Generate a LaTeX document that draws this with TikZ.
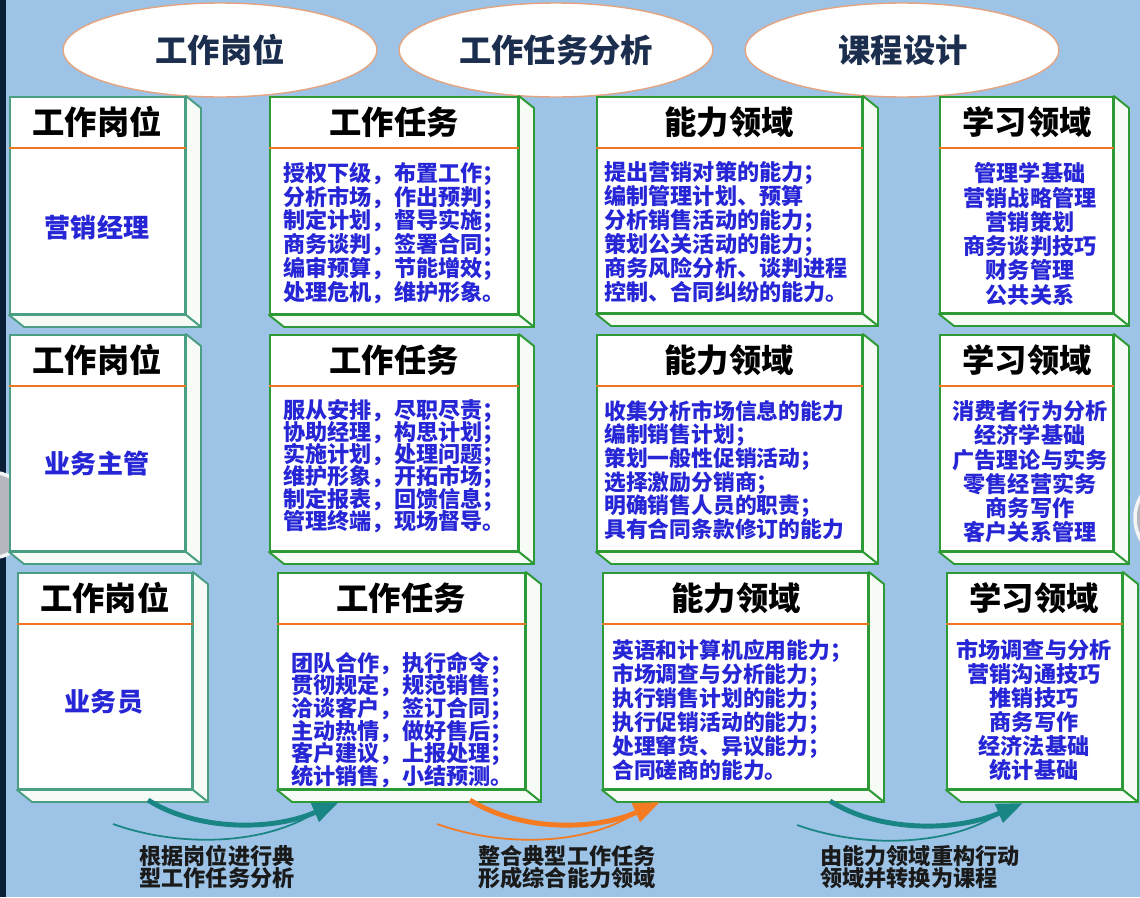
\documentclass[tikz,border=0pt]{standalone}
\usepackage{fontspec}
\setmainfont{Noto Sans CJK SC}
\usetikzlibrary{arrows.meta,fit,calc,shapes.geometric}
\definecolor{bgblue}{HTML}{9DC3E6}
\definecolor{navystripe}{HTML}{0B1E38}
\definecolor{bodyblue}{HTML}{2626D6}
\definecolor{ellborder}{HTML}{E4A482}
\definecolor{elltext}{HTML}{1C2E4E}
\definecolor{boxgreen}{HTML}{2E9A36}
\definecolor{boxteal}{HTML}{4A9E84}
\definecolor{sepor}{HTML}{F07522}
\definecolor{sideface}{HTML}{F6FBF6}
\definecolor{arrteal}{HTML}{1A8585}
\definecolor{arror}{HTML}{F47B22}
\definecolor{labtext}{HTML}{1A1A1A}
\definecolor{knob}{HTML}{B4B7BE}
\newcommand{\zcomma}{\makebox[1em][l]{，}}
\newcommand{\zsemi}{\makebox[1em][l]{；}}
\newcommand{\zstop}{\makebox[1em][l]{。}}
\newcommand{\zdun}{\makebox[1em][l]{、}}
\tikzset{
  ellbox/.style={ellipse, draw=ellborder, line width=0.8pt, fill=white,
    minimum width=6.28cm, minimum height=1.88cm, inner sep=0pt},
  elltxt/.style={font=\bfseries\fontsize{18.4}{20}\selectfont, text=elltext, inner sep=0pt},
  hdr/.style={font=\bfseries\fontsize{18.4}{20}\selectfont, text=black, inner sep=0pt},
  post/.style={font=\bfseries\fontsize{14.8}{16}\selectfont, text=bodyblue, inner sep=0pt},
  bodyl/.style={text=bodyblue, align=left, anchor=west, inner sep=0pt},
  bodyc/.style={text=bodyblue, align=center, anchor=center, inner sep=0pt},
  lab/.style={font=\bfseries\fontsize{12.6}{12.6}\selectfont, text=labtext, inner sep=0pt},
  thickarr/.style={line width=2.8pt, -{Triangle[length=15pt,width=11pt]}},
  thinarr/.style={line width=1pt},
}
\newcommand{\cubebox}[6]{%
  \node[fit={(#2,#3)(#4,#5)}, inner sep=0pt, draw=#6, fill=white, line width=1.1pt] (#1) {};
  \draw[draw=#6, fill=sideface, line width=1.1pt, line join=round]
    (#1.north east) -- ++(15,12) -- ($(#1.south east)+(15,12)$) -- (#1.south east) -- cycle;
  \draw[draw=#6, fill=sideface, line width=1.1pt, line join=round]
    (#1.south west) -- (#1.south east) -- ++(15,12) -- ($(#1.south west)+(15,12)$) -- cycle;
  \draw[sepor, line width=1.6pt] ($(#1.north west)+(0,52)$) -- ($(#1.north east)+(0,52)$);
}
\begin{document}
\begin{tikzpicture}[x=0.02cm,y=-0.02cm]
\lineskiplimit=-20pt
\useasboundingbox (0,0) rectangle (1140,897);
\fill[bgblue] (0,0) rectangle (1140,897);
\fill[navystripe] (0,0) rectangle (6,897);
\fill[knob, draw=white!85!knob, line width=2pt] (-10,515) circle[radius=43];
\fill[knob, draw=white!85!knob, line width=2pt] (1178,518) circle[radius=43];

% top ellipses
\node[ellbox] (e1) at (220,50) {};
\node[elltxt] (e1t) at (220,50) {工作岗位};
\node[ellbox] (e2) at (556,50) {};
\node[elltxt] (e2t) at (556,50) {工作任务分析};
\node[ellbox] (e3) at (902,50) {};
\node[elltxt] (e3t) at (903,50) {课程设计};

% row A
\cubebox{a1}{10}{97}{185}{314}{boxteal}
\cubebox{a2}{270}{97}{518}{314}{boxgreen}
\cubebox{a3}{597}{97}{862}{313}{boxgreen}
\cubebox{a4}{940}{97}{1113}{313}{boxgreen}
% row B
\cubebox{b1}{10}{335}{185}{551}{boxteal}
\cubebox{b2}{270}{335}{518}{551}{boxgreen}
\cubebox{b3}{597}{335}{862}{551}{boxgreen}
\cubebox{b4}{940}{335}{1113}{551}{boxgreen}
% row C
\cubebox{c1}{18}{573}{192}{789}{boxteal}
\cubebox{c2}{278}{573}{525}{789}{boxgreen}
\cubebox{c3}{603}{573}{868}{789}{boxgreen}
\cubebox{c4}{947}{573}{1122}{789}{boxgreen}

% headers
\node[hdr] (a1h) at (97,122) {工作岗位};
\node[hdr] (a2h) at (394,122) {工作任务};
\node[hdr] (a3h) at (729,122) {能力领域};
\node[hdr] (a4h) at (1027,122) {学习领域};
\node[hdr] (b1h) at (97,360) {工作岗位};
\node[hdr] (b2h) at (394,360) {工作任务};
\node[hdr] (b3h) at (729,360) {能力领域};
\node[hdr] (b4h) at (1027,360) {学习领域};
\node[hdr] (c1h) at (105,598) {工作岗位};
\node[hdr] (c2h) at (401,598) {工作任务};
\node[hdr] (c3h) at (736,598) {能力领域};
\node[hdr] (c4h) at (1034,598) {学习领域};

% posts
\node[post] (a1p) at (97,228) {营销经理};
\node[post] (b1p) at (97,464) {业务主管};
\node[post] (c1p) at (104,702) {业务员};

% bodies row A
\node[bodyl, font=\bfseries\fontsize{12.6}{13.6}\selectfont] (a2b) at (283,233) {授权下级\zcomma 布置工作\zsemi\\分析市场\zcomma 作出预判\zsemi\\制定计划\zcomma 督导实施\zsemi\\商务谈判\zcomma 签署合同\zsemi\\编审预算\zcomma 节能增效\zsemi\\处理危机\zcomma 维护形象\zstop};
\node[bodyl, font=\bfseries\fontsize{12.6}{13.6}\selectfont] (a3b) at (604,232) {提出营销对策的能力\zsemi\\编制管理计划\zdun 预算\\分析销售活动的能力\zsemi\\策划公关活动的能力\zsemi\\商务风险分析\zdun 谈判进程\\控制\zdun 合同纠纷的能力\zstop};
\node[bodyc, font=\bfseries\fontsize{12.6}{13.8}\selectfont] (a4b) at (1030,234) {管理学基础\\营销战略管理\\营销策划\\商务谈判技巧\\财务管理\\公共关系};
% bodies row B
\node[bodyl, font=\bfseries\fontsize{12.6}{12.7}\selectfont] (b2b) at (283,466) {服从安排\zcomma 尽职尽责\zsemi\\协助经理\zcomma 构思计划\zsemi\\实施计划\zcomma 处理问题\zsemi\\维护形象\zcomma 开拓市场\zsemi\\制定报表\zcomma 回馈信息\zsemi\\管理终端\zcomma 现场督导\zstop};
\node[bodyl, font=\bfseries\fontsize{12.4}{13.5}\selectfont] (b3b) at (604,470) {收集分析市场信息的能力\\编制销售计划\zsemi\\策划一般性促销活动\zsemi\\选择激励分销商\zsemi\\明确销售人员的职责\zsemi\\具有合同条款修订的能力};
\node[bodyc, font=\bfseries\fontsize{12.6}{13.8}\selectfont] (b4b) at (1030,472) {消费者行为分析\\经济学基础\\广告理论与实务\\零售经营实务\\商务写作\\客户关系管理};
% bodies row C
\node[bodyl, font=\bfseries\fontsize{12.6}{12.9}\selectfont] (c2b) at (291,720) {团队合作\zcomma 执行命令\zsemi\\贯彻规定\zcomma 规范销售\zsemi\\洽谈客户\zcomma 签订合同\zsemi\\主动热情\zcomma 做好售后\zsemi\\客户建议\zcomma 上报处理\zsemi\\统计销售\zcomma 小结预测\zstop};
\node[bodyl, font=\bfseries\fontsize{12.4}{13.6}\selectfont] (c3b) at (612,710) {英语和计算机应用能力\zsemi\\市场调查与分析能力\zsemi\\执行销售计划的能力\zsemi\\执行促销活动的能力\zsemi\\处理窜货\zdun 异议能力\zsemi\\合同磋商的能力\zstop};
\node[bodyc, font=\bfseries\fontsize{12.6}{13.6}\selectfont] (c4b) at (1034,710) {市场调查与分析\\营销沟通技巧\\推销技巧\\商务写作\\经济法基础\\统计基础};

% arrows
\coordinate (p1s) at (148,800);
\coordinate (p1t) at (339,802);
\coordinate (p1u) at (113,824);
\coordinate (p1m) at (316,812);
\draw[arrteal, thickarr] (p1s) .. controls (195,830) and (270,832) .. (p1t);
\draw[arrteal, thinarr] (p1u) .. controls (180,848) and (265,845) .. (p1m);

\coordinate (p2s) at (470,800);
\coordinate (p2t) at (660,802);
\coordinate (p2u) at (437,824);
\coordinate (p2m) at (637,812);
\draw[arror, thickarr] (p2s) .. controls (517,830) and (592,832) .. (p2t);
\draw[arror, thinarr] (p2u) .. controls (504,848) and (589,845) .. (p2m);

\coordinate (p3s) at (830,801);
\coordinate (p3t) at (1023,803);
\coordinate (p3u) at (797,825);
\coordinate (p3m) at (1000,813);
\draw[arrteal, thickarr] (p3s) .. controls (877,831) and (953,833) .. (p3t);
\draw[arrteal, thinarr] (p3u) .. controls (864,849) and (950,846) .. (p3m);

% labels
\node[lab, align=left] (l1) at (217,867) {根据岗位进行典\\型工作任务分析};
\node[lab, align=center] (l2) at (567,867) {整合典型工作任务\\形成综合能力领域};
\node[lab, align=left, anchor=west] (l3) at (820,867) {由能力领域重构行动\\领域并转换为课程};
\end{tikzpicture}
\end{document}
